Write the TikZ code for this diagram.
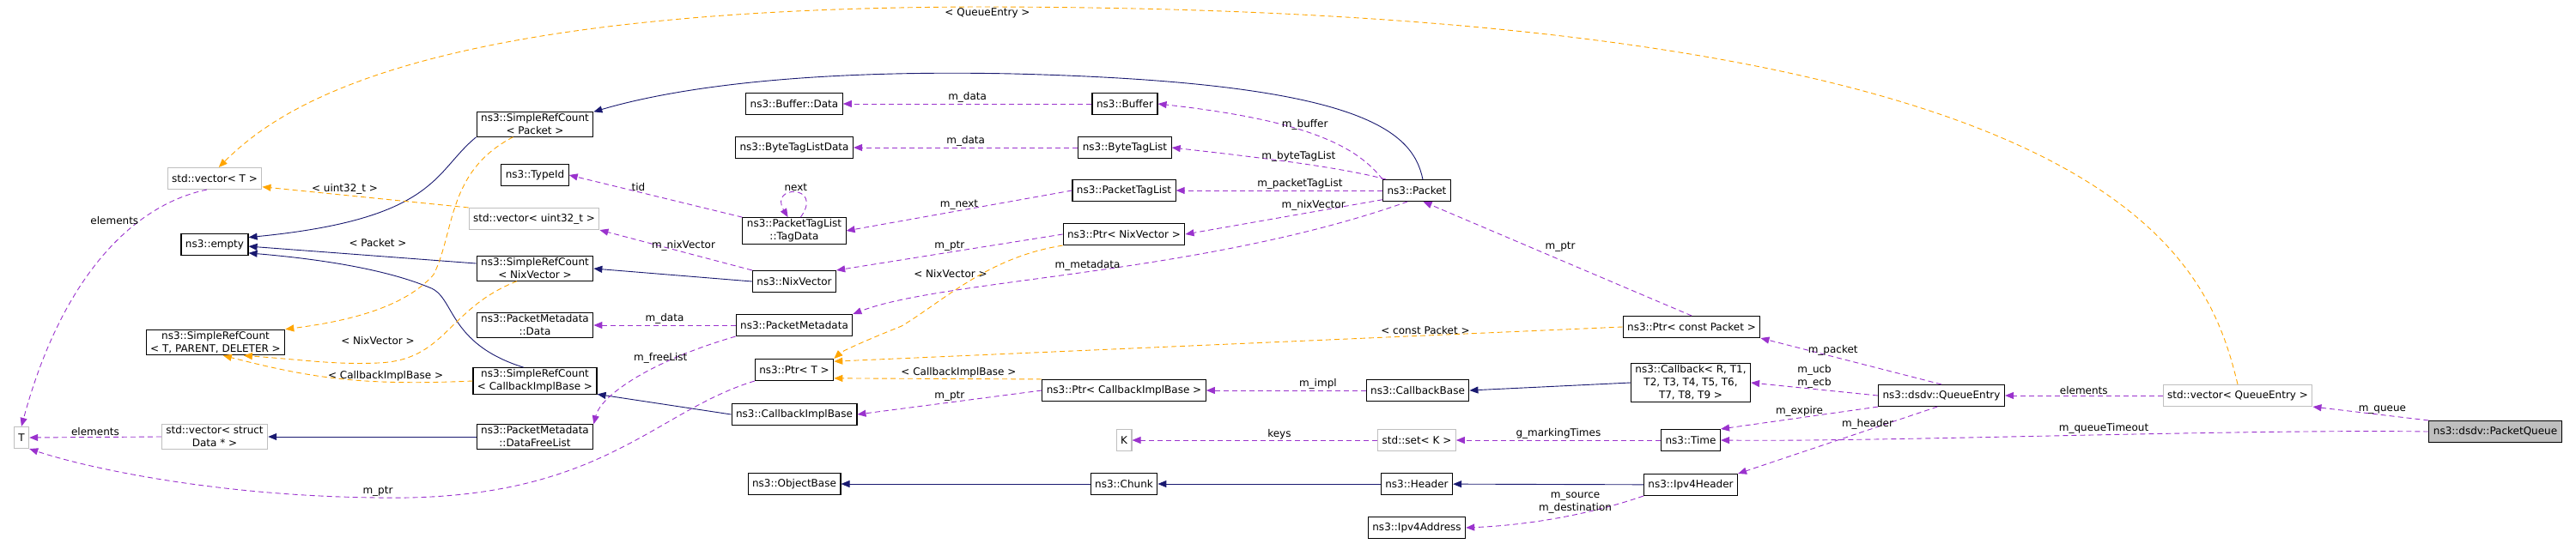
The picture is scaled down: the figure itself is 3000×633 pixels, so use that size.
\documentclass[tikz,border=0pt]{standalone}
\usepackage{fontspec}
\setmainfont{DejaVu Sans}
\usetikzlibrary{arrows.meta}

\definecolor{inhblue}{HTML}{191970}
\definecolor{usepurple}{HTML}{9A32CD}
\definecolor{tmplorange}{HTML}{FFA500}
\definecolor{extgray}{HTML}{BFBFBF}

\tikzset{
  cls/.style={draw=black, line width=1.1pt, fill=white, inner xsep=5pt, inner ysep=2pt,
    minimum height=25pt, align=center, font=\fontsize{12}{15}\selectfont},
  ext/.style={cls, draw=extgray},
  lbl/.style={font=\fontsize{12}{15}\selectfont, inner sep=1pt, align=center},
  inh/.style={draw=inhblue, line width=0.9pt, -{Triangle[length=10pt,width=8pt]}},
  use/.style={draw=usepurple, line width=0.9pt, dash pattern=on 6pt off 4pt, -{Triangle[length=10pt,width=8pt]}},
  tmpl/.style={draw=tmplorange, line width=0.9pt, dash pattern=on 6pt off 4pt, -{Triangle[length=10pt,width=8pt]}}
}

\begin{document}
\begin{tikzpicture}[x=1pt,y=-1pt]
  \useasboundingbox (0,0) rectangle (3000,633);

  % left columns
  \node[ext] (tT) at (25,510) {T};
  \node[ext] (vecT) at (250,208) {std::vector< T >};
  \node[cls] (empty) at (250,285) {ns3::empty};
  \node[cls] (srcTPD) at (251,399) {ns3::SimpleRefCount\\< T, PARENT, DELETER >};
  \node[ext] (vecData) at (250,509) {std::vector< struct\\Data * >};

  \node[cls] (srcPacket) at (623,145) {ns3::SimpleRefCount\\< Packet >};
  \node[cls] (typeId) at (623,204) {ns3::TypeId};
  \node[ext] (vecUint) at (622,255) {std::vector< uint32\_t >};
  \node[cls] (srcNix) at (623,313) {ns3::SimpleRefCount\\< NixVector >};
  \node[cls] (pmData) at (623,379) {ns3::PacketMetadata\\::Data};
  \node[cls] (srcCB) at (623,444) {ns3::SimpleRefCount\\< CallbackImplBase >};
  \node[cls] (freeList) at (623,509) {ns3::PacketMetadata\\::DataFreeList};

  % middle columns
  \node[cls] (bufData) at (925,121) {ns3::Buffer::Data};
  \node[cls] (btlData) at (925,172) {ns3::ByteTagListData};
  \node[cls] (tagData) at (925,269) {ns3::PacketTagList\\::TagData};
  \node[cls] (nixVector) at (925,328) {ns3::NixVector};
  \node[cls] (pktMeta) at (925,379) {ns3::PacketMetadata};
  \node[cls] (ptrT) at (925,431) {ns3::Ptr< T >};
  \node[cls] (cbImpl) at (925,483) {ns3::CallbackImplBase};
  \node[cls] (objBase) at (925,564) {ns3::ObjectBase};

  \node[cls] (buffer) at (1310,121) {ns3::Buffer};
  \node[cls] (byteTags) at (1310,172) {ns3::ByteTagList};
  \node[cls] (pktTags) at (1309,222) {ns3::PacketTagList};
  \node[cls] (ptrNix) at (1309,273) {ns3::Ptr< NixVector >};
  \node[cls] (ptrCB) at (1309,455) {ns3::Ptr< CallbackImplBase >};
  \node[ext] (kK) at (1309,513) {K};
  \node[cls] (chunk) at (1309,564) {ns3::Chunk};

  \node[cls] (packet) at (1650,222) {ns3::Packet};
  \node[cls] (cbBase) at (1651,455) {ns3::CallbackBase};
  \node[ext] (setK) at (1650,513) {std::set< K >};
  \node[cls] (header) at (1650,564) {ns3::Header};
  \node[cls] (ipAddr) at (1650,615) {ns3::Ipv4Address};

  % right columns
  \node[cls] (ptrPkt) at (1970,381) {ns3::Ptr< const Packet >};
  \node[cls] (callback) at (1969,446) {ns3::Callback< R, T1,\\T2, T3, T4, T5, T6,\\T7, T8, T9 >};
  \node[cls] (time) at (1969,513) {ns3::Time};
  \node[cls] (ipHeader) at (1969,565) {ns3::Ipv4Header};
  \node[cls] (qEntry) at (2261,461) {ns3::dsdv::QueueEntry};
  \node[ext] (vecQE) at (2606,461) {std::vector< QueueEntry >};
  \node[cls, fill=extgray] (pktQueue) at (2906,503) {ns3::dsdv::PacketQueue};

  % inheritance
  \draw[inh] (srcPacket.south west) .. controls (505,200) and (510,255) .. (empty.12);
  \draw[inh] (srcNix.175) -- (empty.-3);
  \draw[inh] (srcCB.130) .. controls (520,400) and (530,345) .. (500,335) .. controls (440,310) and (350,300) .. (empty.-14);
  \draw[inh] (packet.62) .. controls (1645,150) and (1580,96) .. (1180,86) .. controls (900,80) and (760,110) .. (srcPacket.north east);
  \draw[inh] (nixVector.west) -- (srcNix.east);
  \draw[inh] (cbImpl.west) -- (srcCB.-12);
  \draw[inh] (freeList.west) -- (vecData.east);
  \draw[inh] (chunk) -- (objBase);
  \draw[inh] (header) -- (chunk);
  \draw[inh] (ipHeader) -- (header);
  \draw[inh] (callback.west) -- (cbBase.east);

  % template instances
  \draw[tmpl] (vecQE.north) .. controls (2570,300) and (2470,10) .. (1150,8) node[lbl, below] {< QueueEntry >}
    .. controls (500,8) and (330,120) .. (vecT.70);
  \draw[tmpl] (vecUint.north west) -- node[lbl, above, pos=.6] {< uint32\_t >} (vecT.-10);
  \draw[tmpl] (srcPacket.-150) .. controls (520,200) and (530,270) .. (505,320) node[lbl, xshift=-65pt, yshift=37pt] {< Packet >} .. controls (470,360) and (400,375) .. (srcTPD.north east);
  \draw[tmpl] (srcNix.-145) .. controls (520,360) and (520,420) .. (440,423) node[lbl, above=20pt] {< NixVector >} .. controls (390,425) and (360,420) .. (srcTPD.-25);
  \draw[tmpl] (srcCB.west) .. controls (420,450) and (360,440) .. (srcTPD.-60) node[lbl, pos=.3, above] {< CallbackImplBase >};
  \draw[tmpl] (ptrNix.south west) .. controls (1150,300) and (1100,350) .. (1050,380) node[lbl, xshift=57pt, yshift=61pt] {< NixVector >} .. controls (1000,400) and (980,410) .. (ptrT.north east);
  \draw[tmpl] (ptrPkt.west) -- node[lbl, above, pos=.25] {< const Packet >} (ptrT.12);
  \draw[tmpl] (ptrCB.north west) -- node[lbl, above, pos=.4] {< CallbackImplBase >} (ptrT.-12);

  % members
  \draw[use] (vecT.-125) .. controls (150,240) and (70,330) .. node[lbl, pos=.3, left] {elements} (tT.north);
  \draw[use] (vecData.west) -- node[lbl, above] {elements} (tT.east);
  \draw[use] (ptrT.south west) .. controls (760,480) and (700,585) .. (440,580) node[lbl, above] {m\_ptr} .. controls (250,578) and (100,545) .. (tT.south east);
  \draw[use] (tagData.north west) -- node[lbl, above, pos=.6] {tid} (typeId.east);
  \draw[use] (nixVector.north west) -- node[lbl, above, pos=.45] {m\_nixVector} (vecUint.south east);
  \draw[use] (pktMeta.west) -- node[lbl, above] {m\_data} (pmData.east);
  \draw[use] (pktMeta.south west) .. controls (760,420) and (700,460) .. node[lbl, pos=.35, above] {m\_freeList} (freeList.north east);
  \draw[use] (buffer.west) -- node[lbl, above] {m\_data} (bufData.east);
  \draw[use] (byteTags.west) -- node[lbl, above] {m\_data} (btlData.east);
  \draw[use] (tagData.65) .. controls (960,215) and (895,215) .. node[lbl, above] {next} (tagData.115);
  \draw[use] (pktTags.west) -- node[lbl, above] {m\_next} (tagData.east);
  \draw[use] (ptrNix.west) -- node[lbl, above] {m\_ptr} (nixVector.north east);
  \draw[use] (ptrCB.west) -- node[lbl, above] {m\_ptr} (cbImpl.east);
  \draw[use] (packet.north west) .. controls (1580,170) and (1520,140) .. node[lbl, pos=.55, above] {m\_buffer} (buffer.east);
  \draw[use] (packet.160) .. controls (1560,195) and (1480,185) .. node[lbl, pos=.5, above] {m\_byteTagList} (byteTags.east);
  \draw[use] (packet.west) -- node[lbl, above, pos=.4] {m\_packetTagList} (pktTags.east);
  \draw[use] (packet.-165) -- node[lbl, above, pos=.35] {m\_nixVector} (ptrNix.east);
  \draw[use] (packet.-130) .. controls (1400,320) and (1100,325) .. node[lbl, pos=.5, above] {m\_metadata} (pktMeta.north east);
  \draw[use] (ptrPkt.north) -- node[lbl, above right, pos=.55] {m\_ptr} (packet.-60);
  \draw[use] (cbBase.west) -- node[lbl, above, pos=.3] {m\_impl} (ptrCB.east);
  \draw[use] (setK.west) -- node[lbl, above, pos=.4] {keys} (kK.east);
  \draw[use] (time.west) -- node[lbl, above] {g\_markingTimes} (setK.east);
  \draw[use] (ipHeader.south west) .. controls (1850,600) and (1780,612) .. node[lbl, pos=.4, above] {m\_source\\m\_destination} (ipAddr.east);
  \draw[use] (qEntry.north) -- node[lbl, above, pos=.6] {m\_packet} (ptrPkt.south east);
  \draw[use] (qEntry.west) -- node[lbl, above] {m\_ucb\\m\_ecb} (callback.east);
  \draw[use] (qEntry.south west) -- node[lbl, above, pos=.5] {m\_expire} (time.north east);
  \draw[use] (qEntry.-110) -- node[lbl, above, pos=.35] {m\_header} (ipHeader.north east);
  \draw[use] (vecQE.west) -- node[lbl, above] {elements} (qEntry.east);
  \draw[use] (pktQueue.north west) -- node[lbl, above, pos=.4] {m\_queue} (vecQE.south east);
  \draw[use] (pktQueue.west) .. controls (2600,500) and (2200,515) .. node[lbl, above, pos=.45] {m\_queueTimeout} (time.east);
\end{tikzpicture}
\end{document}
